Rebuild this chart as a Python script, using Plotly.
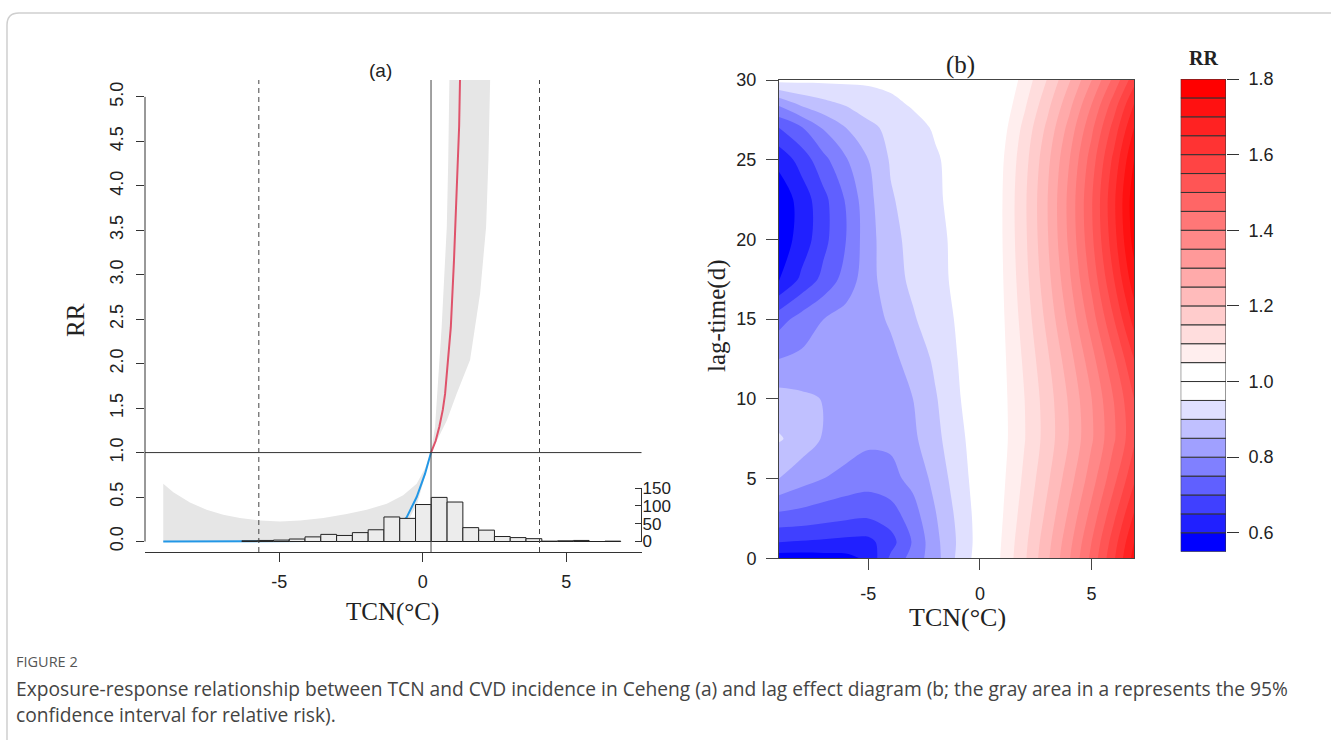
import plotly.graph_objects as go

W, H = 1331, 740
def fx(p):
    return p / W
def fy(p):
    return 1 - p / H

SERIF = "Liberation Serif"
SANS = "Liberation Sans"
INK = "#222222"

# ---------------- Panel (a) data ----------------
band_upper_x = [-9.04, -8.69, -8.11, -7.53, -6.95, -6.37, -5.67, -4.97, -4.27, -3.46,
                -2.65, -1.95, -1.25, -0.68, -0.21, 0.08, 0.29, 0.43, 0.51, 0.66,
                0.84, 0.89, 0.93, 1.0, 3.0]
band_upper_y = [0.65, 0.555, 0.44, 0.357, 0.30, 0.263, 0.236, 0.225, 0.236, 0.263,
                0.31, 0.357, 0.424, 0.52, 0.65, 0.82, 1.0, 1.29, 1.66, 2.41,
                3.54, 4.29, 5.19, 8.0, 100.0]
band_lower_x = [-9.04, -4.0, -2.0, -1.2, -0.6, -0.2, 0.14, 0.29, 0.84, 1.18,
                1.65, 2.0, 2.21, 2.29, 2.35, 2.5, 3.0]
band_lower_y = [0.0, 0.0, 0.015, 0.06, 0.18, 0.42, 0.80, 1.0, 1.36, 1.66,
                2.04, 2.79, 3.54, 4.29, 5.19, 7.0, 12.0]

cold_x = [-9.04, -7.0, -5.0, -4.0, -3.0, -2.5, -2.0, -1.5, -1.0, -0.56, -0.21, 0.08, 0.29]
cold_rr = [0.0, 0.001, 0.003, 0.006, 0.013, 0.022, 0.038, 0.07, 0.13, 0.27, 0.50, 0.76, 1.0]

hot_x = [0.29, 0.45, 0.58, 0.70, 0.78, 0.89, 0.98, 1.09, 1.18, 1.27, 1.30, 1.34]
hot_rr = [1.0, 1.13, 1.29, 1.48, 1.66, 2.04, 2.41, 3.16, 3.92, 4.67, 5.19, 5.9]

mmt = 0.29
cut_low, cut_high = -5.71, 4.07

hist_left = [-6.30, -5.75, -5.20, -4.65, -4.10, -3.55, -3.00, -2.45, -1.90, -1.35,
             -0.80, -0.25, 0.30, 0.85, 1.40, 1.95, 2.50, 3.05, 3.60, 4.15,
             4.70, 5.25, 5.80, 6.35]
hist_counts = [2, 3, 4, 7, 13, 20, 17, 25, 33, 69,
               65, 104, 124, 111, 39, 32, 14, 11, 8, 1,
               2, 3, 0, 1]
bin_w = 0.55

rr_ticks = [0.0, 0.5, 1.0, 1.5, 2.0, 2.5, 3.0, 3.5, 4.0, 4.5, 5.0]
count_ticks = [0, 50, 100, 150]
tcn_ticks = [-5, 0, 5]
tcn_labels = ["-5", "0", "5"]

# ---------------- Panel (b) data ----------------
tcn_grid = [-9, -8, -7, -6, -5, -4, -3, -2, -1, 0, 1, 2, 3, 4, 5, 6, 6.9]
lag_grid = [0, 1, 2.5, 5, 7.5, 10, 12.5, 15, 17.5, 20, 22.5, 25, 27, 28.5, 30]
rr_grid = [
    [0.575, 0.575, 0.58, 0.585, 0.61, 0.71, 0.77, 0.83, 0.91, 0.975, 1.058, 1.142, 1.238, 1.346, 1.464, 1.593, 1.72],
    [0.65, 0.645, 0.64, 0.635, 0.635, 0.68, 0.755, 0.835, 0.905, 0.972, 1.054, 1.137, 1.230, 1.334, 1.450, 1.577, 1.70],
    [0.73, 0.725, 0.715, 0.705, 0.70, 0.72, 0.775, 0.845, 0.91, 0.972, 1.048, 1.126, 1.214, 1.313, 1.422, 1.543, 1.66],
    [0.85, 0.82, 0.80, 0.785, 0.775, 0.785, 0.815, 0.865, 0.925, 0.975, 1.040, 1.110, 1.189, 1.278, 1.376, 1.485, 1.59],
    [0.905, 0.88, 0.845, 0.825, 0.81, 0.81, 0.84, 0.885, 0.935, 0.978, 1.034, 1.098, 1.171, 1.252, 1.343, 1.443, 1.54],
    [0.87, 0.86, 0.848, 0.84, 0.835, 0.835, 0.85, 0.895, 0.945, 0.98, 1.035, 1.100, 1.174, 1.257, 1.349, 1.451, 1.55],
    [0.80, 0.81, 0.82, 0.825, 0.83, 0.84, 0.865, 0.91, 0.95, 0.982, 1.038, 1.109, 1.190, 1.280, 1.381, 1.492, 1.60],
    [0.73, 0.77, 0.80, 0.82, 0.835, 0.855, 0.895, 0.925, 0.955, 0.985, 1.042, 1.121, 1.212, 1.313, 1.425, 1.549, 1.67],
    [0.595, 0.66, 0.715, 0.77, 0.83, 0.88, 0.91, 0.935, 0.96, 0.985, 1.046, 1.132, 1.231, 1.341, 1.464, 1.599, 1.73],
    [0.57, 0.62, 0.685, 0.75, 0.83, 0.885, 0.915, 0.938, 0.96, 0.985, 1.049, 1.139, 1.243, 1.360, 1.489, 1.631, 1.77],
    [0.565, 0.62, 0.685, 0.755, 0.835, 0.895, 0.92, 0.942, 0.965, 0.985, 1.049, 1.141, 1.246, 1.364, 1.495, 1.640, 1.78],
    [0.615, 0.67, 0.735, 0.795, 0.85, 0.905, 0.925, 0.945, 0.965, 0.985, 1.044, 1.132, 1.234, 1.348, 1.474, 1.614, 1.75],
    [0.70, 0.745, 0.805, 0.85, 0.89, 0.91, 0.935, 0.955, 0.975, 0.99, 1.030, 1.115, 1.210, 1.318, 1.438, 1.570, 1.70],
    [0.81, 0.86, 0.885, 0.905, 0.92, 0.94, 0.955, 0.97, 0.98, 0.99, 1.014, 1.092, 1.182, 1.284, 1.399, 1.525, 1.65],
    [0.965, 0.962, 0.96, 0.96, 0.96, 0.962, 0.965, 0.97, 0.978, 0.988, 1.000, 1.070, 1.151, 1.244, 1.349, 1.465, 1.58],
]
lag_ticks = [0, 5, 10, 15, 20, 25, 30]

levels = [0.55, 0.60, 0.65, 0.70, 0.75, 0.80, 0.85, 0.90, 0.95, 1.00, 1.05, 1.10, 1.15,
          1.20, 1.25, 1.30, 1.35, 1.40, 1.45, 1.50, 1.55, 1.60, 1.65, 1.70, 1.75, 1.80]
band_colors = ["#0000FF", "#2020FF", "#4040FF", "#6060FF", "#8080FF", "#A0A0FF", "#C0C0FF",
               "#E0E0FF", "#FFFFFF", "#FFFFFF", "#FFEEEE", "#FFDDDD", "#FFCCCC", "#FFBBBB",
               "#FFAAAA", "#FF9999", "#FF8888", "#FF7777", "#FF6666", "#FF5555", "#FF4444",
               "#FF3333", "#FF2222", "#FF1111", "#FF0000"]
key_ticks = [0.6, 0.8, 1.0, 1.2, 1.4, 1.6, 1.8]

# ---------------- Figure ----------------
fig = go.Figure()

fig.add_trace(go.Scatter(
    x=band_lower_x + band_upper_x[::-1], y=band_lower_y + band_upper_y[::-1],
    fill="toself", fillcolor="#e6e6e6", line=dict(width=0), mode="lines",
    hoverinfo="skip", showlegend=False, xaxis="x", yaxis="y"))
fig.add_trace(go.Scatter(x=cold_x, y=cold_rr, mode="lines", line=dict(color="#2297E6", width=2),
                         showlegend=False, xaxis="x", yaxis="y"))
fig.add_trace(go.Scatter(x=hot_x, y=hot_rr, mode="lines", line=dict(color="#DF536B", width=2),
                         showlegend=False, xaxis="x", yaxis="y"))
fig.add_trace(go.Bar(
    x=[l + bin_w / 2 for l in hist_left], y=hist_counts, width=bin_w,
    marker=dict(color="#ececec", line=dict(color="#222222", width=1)),
    showlegend=False, xaxis="x", yaxis="y2"))

# contour fill: band k (levels[k]..levels[k+1]) is coloured at scale position (k+1)/(n+1)
n = len(band_colors)
cscale = [[0, band_colors[0]]] + [[(k + 1) / (n + 1), band_colors[k]] for k in range(n)] + [[1, band_colors[-1]]]
fig.add_trace(go.Contour(
    x=tcn_grid, y=lag_grid, z=rr_grid, xaxis="x2", yaxis="y3",
    colorscale=cscale, autocontour=False,
    contours=dict(start=levels[0], end=levels[-1], size=0.05, coloring="fill", showlines=False),
    line=dict(width=0, smoothing=0.9), showscale=False, hoverinfo="skip"))

fig.add_trace(go.Bar(
    x=[0] * n, y=[levels[i + 1] - levels[i] for i in range(n)], base=levels[:-1], width=1,
    marker=dict(color=band_colors, line=dict(color="#333333", width=1)),
    showlegend=False, xaxis="x3", yaxis="y4", hoverinfo="skip"))

tickfont = dict(family=SANS, size=18, color=INK)
ya_lo, ya_hi = -0.118, 5.19
fig.update_layout(
    width=W, height=H, autosize=False, margin=dict(l=0, r=0, t=0, b=0, autoexpand=False),
    paper_bgcolor="white", plot_bgcolor="rgba(0,0,0,0)", barmode="overlay",
    xaxis=dict(domain=[fx(145), fx(641.5)], range=[-9.676, 7.624], anchor="y",
               tickvals=tcn_ticks, ticktext=tcn_labels,
               ticks="outside", ticklen=9, tickcolor="#333", showline=True, linecolor="#333",
               showgrid=False, zeroline=False, tickfont=tickfont, ticklabelstandoff=4),
    yaxis=dict(domain=[fy(552), fy(80)], range=[ya_lo, ya_hi], anchor="x",
               tickvals=rr_ticks, ticktext=["%.1f" % t for t in rr_ticks], tickangle=-90,
               ticks="outside", ticklen=8, tickcolor="#333", showline=False,
               showgrid=False, zeroline=False, tickfont=tickfont, ticklabelstandoff=6),
    yaxis2=dict(overlaying="y", side="right", anchor="x", range=[ya_lo * 250, ya_hi * 250],
                tickvals=count_ticks, ticks="inside", ticklen=7, tickcolor="#333",
                showline=False, showgrid=False, zeroline=False,
                tickfont=dict(family=SANS, size=17, color=INK)),
    xaxis2=dict(domain=[fx(779), fx(1134)], range=[-9.0, 6.9], anchor="y3",
                tickvals=tcn_ticks, ticktext=tcn_labels, ticks="outside", ticklen=11, tickcolor="#444",
                showline=True, mirror=True, linecolor="#444", showgrid=False, zeroline=False,
                tickfont=tickfont, ticklabelstandoff=8),
    yaxis3=dict(domain=[fy(558.3), fy(80)], range=[0, 30], anchor="x2",
                tickvals=lag_ticks, ticks="outside", ticklen=12, tickcolor="#444",
                showline=True, mirror=True, linecolor="#444", showgrid=False, zeroline=False,
                tickfont=tickfont, ticklabelstandoff=6),
    xaxis3=dict(domain=[fx(1180.7), fx(1226)], range=[-0.5, 0.5], anchor="y4", visible=False),
    yaxis4=dict(domain=[fy(551.7), fy(79)], range=[0.55, 1.8], anchor="x3", side="right",
                tickvals=key_ticks, ticktext=["%.1f" % t for t in key_ticks],
                ticks="outside", ticklen=12, tickcolor="#333", showline=False,
                showgrid=False, zeroline=False, tickfont=tickfont, ticklabelstandoff=6),
)

shapes = [
    dict(type="line", xref="x domain", x0=0, x1=1, yref="y", y0=1, y1=1,
         line=dict(color="#333", width=1)),
    dict(type="line", xref="x", x0=mmt, x1=mmt, yref="y domain", y0=0, y1=1,
         line=dict(color="#444", width=1)),
    dict(type="line", xref="x", x0=cut_low, x1=cut_low, yref="y domain", y0=0, y1=1,
         line=dict(color="#444", width=1, dash="5px,4px")),
    dict(type="line", xref="x", x0=cut_high, x1=cut_high, yref="y domain", y0=0, y1=1,
         line=dict(color="#444", width=1, dash="5px,4px")),
    dict(type="line", xref="x domain", x0=0, x1=0, yref="y", y0=rr_ticks[0], y1=rr_ticks[-1],
         line=dict(color="#333", width=1)),
    dict(type="line", xref="x domain", x0=1, x1=1, yref="y2", y0=count_ticks[0], y1=count_ticks[-1],
         line=dict(color="#333", width=1)),
    dict(type="path", xref="paper", yref="paper", layer="below",
         path="M %f,%f L %f,%f Q %f,%f %f,%f L %f,%f" % (
             fx(7), fy(740), fx(7), fy(25), fx(7), fy(13), fx(19), fy(13), fx(1331), fy(13)),
         line=dict(color="#cfcfcf", width=1.5)),
]
fig.update_layout(shapes=shapes)

def ann(text, x, y, size, family=SERIF, angle=0, xanchor="center", yanchor="middle", color=INK):
    return dict(text=text, x=fx(x), y=fy(y), xref="paper", yref="paper", showarrow=False,
                textangle=angle, xanchor=xanchor, yanchor=yanchor,
                font=dict(family=family, size=size, color=color))

annotations = [
    ann("(a)", 380, 70, 19, family=SANS),
    ann("RR", 75, 320, 25, angle=-90),
    ann("TCN(°C)", 393, 612, 25),
    ann("(b)", 960, 81, 25, yanchor="bottom"),
    ann("lag-time(d)", 717, 316, 25, angle=-90),
    ann("TCN(°C)", 957, 617, 26),
    ann("<b>RR</b>", 1203, 58, 20),
    ann("FIGURE 2", 14, 661, 14.5, family="Open Sans", xanchor="left", color="#555555"),
    ann("Exposure-response relationship between TCN and CVD incidence in Ceheng (a) and lag effect "
        "diagram (b; the gray area in a represents the 95%", 14, 688, 19.2, family="Open Sans",
        xanchor="left", color="#444444"),
    ann("confidence interval for relative risk).", 14, 714, 19.2, family="Open Sans",
        xanchor="left", color="#444444"),
]
fig.update_layout(annotations=annotations)

post = ("document.documentElement.style.margin='0';document.documentElement.style.overflow='hidden';"
        "document.body.style.margin='0';document.body.style.padding='0';"
        "var g=document.getElementById('{plot_id}');g.style.position='fixed';"
        "g.style.left='0px';g.style.top='0px';")
fig.write_html("out.html", post_script=post,
               config=dict(displayModeBar=False, responsive=False, staticPlot=True))
